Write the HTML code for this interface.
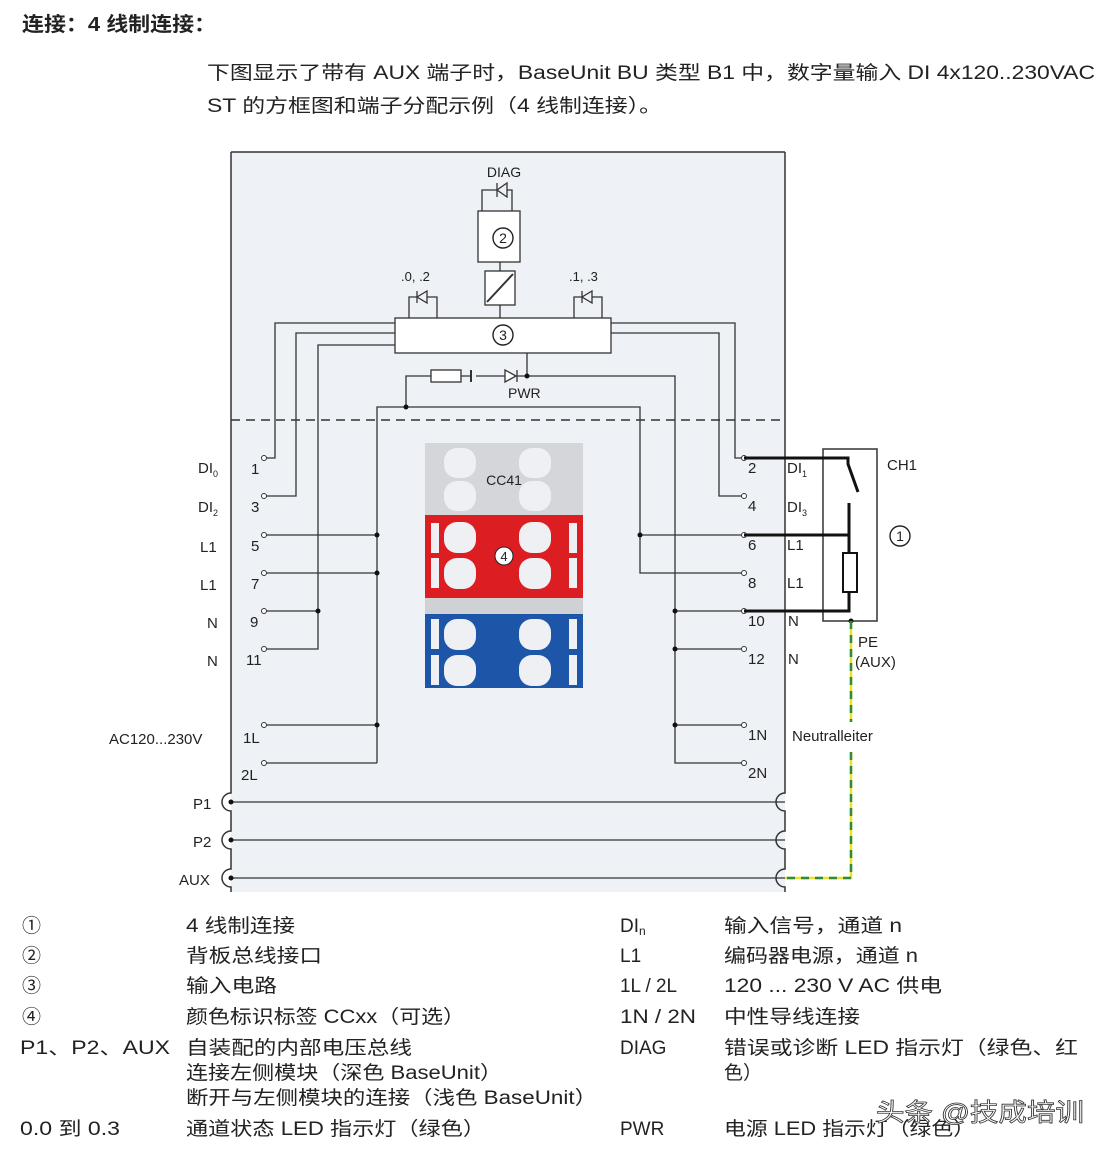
<!DOCTYPE html>
<html><head><meta charset="utf-8"><style>
html,body{margin:0;padding:0;background:#fff;}
svg{display:block;}
text{font-family:"Liberation Sans","Noto Sans CJK SC",sans-serif;fill:#222;}
</style></head><body>
<svg width="1108" height="1154" viewBox="0 0 1108 1154" xmlns="http://www.w3.org/2000/svg">
<rect width="1108" height="1154" fill="#fff"/>
<text x="22" y="31" font-size="20" font-weight="bold" textLength="194" lengthAdjust="spacingAndGlyphs">连接：4 线制连接：</text>
<text x="207" y="79" font-size="19" textLength="888" lengthAdjust="spacingAndGlyphs">下图显示了带有 AUX 端子时，BaseUnit BU 类型 B1 中，数字量输入 DI 4x120..230VAC</text>
<text x="207" y="112" font-size="19" textLength="455" lengthAdjust="spacingAndGlyphs">ST 的方框图和端子分配示例（4 线制连接）。</text>

<rect x="231" y="152" width="554" height="740" fill="#eef1f5" stroke="none"/>
<line x1="231" y1="152" x2="785" y2="152" stroke="#333" stroke-width="1.5"/>
<g fill="none" stroke="#333" stroke-width="1.5">
<path d="M231 152 V793 a8 8 0 0 0 0 18 V831 a8 8 0 0 0 0 18 V869 a8 8 0 0 0 0 18 V892"/>
<path d="M785 152 V793 a8 8 0 0 0 0 18 V831 a8 8 0 0 0 0 18 V869 a8 8 0 0 0 0 18 V892"/>
</g>
<line x1="231" y1="420" x2="785" y2="420" stroke="#333" stroke-width="1.5" stroke-dasharray="9,6"/>

<g stroke="#333" stroke-width="1.3" fill="none">
<path d="M482 211 V190 H497 M507 190 H512 V211"/>
<line x1="497" y1="183" x2="497" y2="197"/>
<polygon points="507,183 507,197 497,190" fill="#eef1f5"/>
<rect x="478" y="211" width="42" height="51" fill="#fff"/>
<line x1="500" y1="262" x2="500" y2="271"/>
<rect x="485" y="271" width="30" height="34" fill="#fff"/>
<line x1="487" y1="302" x2="513" y2="274" stroke-width="2"/>
<line x1="500" y1="305" x2="500" y2="318"/>
<path d="M409 318 V297 H417 M427 297 H437 V318"/>
<line x1="417" y1="291" x2="417" y2="303"/>
<polygon points="427,291 427,303 417,297" fill="#eef1f5"/>
<path d="M574 318 V297 H582 M592 297 H602 V318"/>
<line x1="582" y1="291" x2="582" y2="303"/>
<polygon points="592,291 592,303 582,297" fill="#eef1f5"/>
<rect x="395" y="318" width="216" height="35" fill="#fff"/>
<path d="M395 323 H275 V458 H264"/>
<path d="M395 333 H296 V496 H264"/>
<path d="M395 345 H318 V649 H264"/>
<path d="M611 323 H735 V458 H744"/>
<path d="M611 333 H719 V496 H744"/>
<path d="M527 353 V376 H675 V763 H744"/>
<path d="M527 376 H517 M505 376 H476 M472 376 H461 M431 376 H406 V407"/>
<polygon points="505,370 505,382 516,376" fill="#fff"/>
<line x1="517" y1="370" x2="517" y2="382"/>
<line x1="471" y1="370" x2="471" y2="382" stroke-width="2"/>
<rect x="431" y="370" width="30" height="12" fill="#fff"/>
<path d="M377 763 V407 H640 V573 H744"/>
<path d="M264 535 H377 M264 573 H377 M264 611 H318 M264 725 H377 M264 763 H377"/>
<path d="M640 535 H744 M675 611 H744 M675 649 H744 M675 725 H744"/>
<path d="M231 802 H785 M231 840 H785 M231 878 H785"/>
</g>
<g fill="#111">
<circle cx="527" cy="376" r="2.5"/><circle cx="406" cy="407" r="2.5"/>
<circle cx="377" cy="535" r="2.5"/><circle cx="377" cy="573" r="2.5"/><circle cx="377" cy="725" r="2.5"/>
<circle cx="318" cy="611" r="2.5"/><circle cx="640" cy="535" r="2.5"/>
<circle cx="675" cy="611" r="2.5"/><circle cx="675" cy="649" r="2.5"/><circle cx="675" cy="725" r="2.5"/>
<circle cx="231" cy="802" r="2.5"/><circle cx="231" cy="840" r="2.5"/><circle cx="231" cy="878" r="2.5"/>
</g>
<g fill="#fff" stroke="#333" stroke-width="1">
<circle cx="264" cy="458" r="2.5"/><circle cx="264" cy="496" r="2.5"/><circle cx="264" cy="535" r="2.5"/><circle cx="264" cy="573" r="2.5"/>
<circle cx="264" cy="611" r="2.5"/><circle cx="264" cy="649" r="2.5"/><circle cx="264" cy="725" r="2.5"/><circle cx="264" cy="763" r="2.5"/>
<circle cx="744" cy="458" r="2.5"/><circle cx="744" cy="496" r="2.5"/><circle cx="744" cy="535" r="2.5"/><circle cx="744" cy="573" r="2.5"/>
<circle cx="744" cy="611" r="2.5"/><circle cx="744" cy="649" r="2.5"/><circle cx="744" cy="725" r="2.5"/><circle cx="744" cy="763" r="2.5"/>
</g>
<g font-size="15">
<text x="504" y="177" text-anchor="middle" font-size="14">DIAG</text>
<text x="401" y="281" font-size="13">.0, .2</text>
<text x="569" y="281" font-size="13">.1, .3</text>
<text x="508" y="398" font-size="14">PWR</text>
</g>
<g fill="#fff" stroke="#222" stroke-width="1.4">
<circle cx="503" cy="238" r="10"/><circle cx="503" cy="335" r="10"/>
<circle cx="900" cy="536" r="10"/>
</g>
<g font-size="14" text-anchor="middle">
<text x="503" y="243">2</text><text x="503" y="340">3</text><text x="900" y="541">1</text>
</g>

<rect x="425" y="443" width="158" height="72" fill="#d4d6d9"/>
<rect x="425" y="515" width="158" height="83" fill="#dc1e22"/>
<rect x="425" y="598" width="158" height="16" fill="#cfd1d4"/>
<rect x="425" y="614" width="158" height="74" fill="#1d55a8"/>
<g fill="#eef0f4">
<rect x="444" y="448" width="32" height="30" rx="13"/><rect x="519" y="448" width="32" height="30" rx="13"/>
<rect x="444" y="481" width="32" height="30" rx="13"/><rect x="519" y="481" width="32" height="30" rx="13"/>
<rect x="444" y="522" width="32" height="31" rx="13"/><rect x="519" y="522" width="32" height="31" rx="13"/>
<rect x="444" y="558" width="32" height="31" rx="13"/><rect x="519" y="558" width="32" height="31" rx="13"/>
<rect x="444" y="619" width="32" height="31" rx="13"/><rect x="519" y="619" width="32" height="31" rx="13"/>
<rect x="444" y="655" width="32" height="31" rx="13"/><rect x="519" y="655" width="32" height="31" rx="13"/>
<rect x="431" y="523" width="8" height="30"/><rect x="431" y="558" width="8" height="30"/>
<rect x="569" y="523" width="8" height="30"/><rect x="569" y="558" width="8" height="30"/>
<rect x="431" y="619" width="8" height="30"/><rect x="431" y="655" width="8" height="30"/>
<rect x="569" y="619" width="8" height="30"/><rect x="569" y="655" width="8" height="30"/>
</g>
<text x="504" y="485" font-size="14" text-anchor="middle">CC41</text>
<circle cx="504" cy="556" r="9" fill="#fff" stroke="#222"/>
<text x="504" y="561" font-size="13" text-anchor="middle">4</text>

<g font-size="15">
<text x="198" y="473">DI<tspan font-size="9" dy="4">0</tspan></text>
<text x="198" y="512">DI<tspan font-size="9" dy="4">2</tspan></text>
<text x="200" y="552">L1</text><text x="200" y="590">L1</text>
<text x="207" y="628">N</text><text x="207" y="666">N</text>
<text x="109" y="744">AC120...230V</text>
<text x="251" y="474">1</text><text x="251" y="512">3</text><text x="251" y="551">5</text><text x="251" y="589">7</text>
<text x="250" y="627">9</text><text x="246" y="665">11</text><text x="243" y="743">1L</text><text x="241" y="780">2L</text>
<text x="193" y="809">P1</text><text x="193" y="847">P2</text><text x="179" y="885">AUX</text>
<text x="748" y="473">2</text><text x="748" y="511">4</text><text x="748" y="550">6</text><text x="748" y="588">8</text>
<text x="748" y="626">10</text><text x="748" y="664">12</text><text x="748" y="740">1N</text><text x="748" y="778">2N</text>
<text x="787" y="473">DI<tspan font-size="9" dy="4">1</tspan></text>
<text x="787" y="512">DI<tspan font-size="9" dy="4">3</tspan></text>
<text x="787" y="550">L1</text><text x="787" y="588">L1</text>
<text x="788" y="626">N</text><text x="788" y="664">N</text>
<text x="792" y="741">Neutralleiter</text>
<text x="887" y="470">CH1</text>
<text x="858" y="647">PE</text><text x="855" y="667">(AUX)</text>
</g>

<rect x="823" y="449" width="54" height="172" fill="none" stroke="#333" stroke-width="1.5"/>
<g stroke="#111" stroke-width="3" fill="none">
<path d="M744 458 H848 V464 L858 492"/>
<path d="M849 503 V553 M849 592 V611 H744 M744 535 H849"/>
</g>
<rect x="843" y="553" width="14" height="39" fill="#fff" stroke="#111" stroke-width="2"/>
<circle cx="851" cy="621" r="2.5" fill="#111"/>
<path d="M851 621 V722 M851 752 V878 H785" stroke="#e8e22a" stroke-width="2.5" fill="none"/>
<path d="M851 621 V722 M851 752 V878 H785" stroke="#2e8b3a" stroke-width="2.5" fill="none" stroke-dasharray="8,6"/>

<g font-size="19">
<text x="22" y="932">①</text><text x="186" y="932" textLength="109" lengthAdjust="spacingAndGlyphs">4 线制连接</text>
<text x="22" y="962">②</text><text x="186" y="962" textLength="136" lengthAdjust="spacingAndGlyphs">背板总线接口</text>
<text x="22" y="992">③</text><text x="186" y="992" textLength="91" lengthAdjust="spacingAndGlyphs">输入电路</text>
<text x="22" y="1023">④</text><text x="186" y="1023" textLength="279" lengthAdjust="spacingAndGlyphs">颜色标识标签 CCxx（可选）</text>
<text x="20" y="1054" textLength="150" lengthAdjust="spacingAndGlyphs">P1、P2、AUX</text><text x="186" y="1054" textLength="226" lengthAdjust="spacingAndGlyphs">自装配的内部电压总线</text>
<text x="186" y="1079" textLength="316" lengthAdjust="spacingAndGlyphs">连接左侧模块（深色 BaseUnit）</text>
<text x="186" y="1104" textLength="411" lengthAdjust="spacingAndGlyphs">断开与左侧模块的连接（浅色 BaseUnit）</text>
<text x="20" y="1135" textLength="100" lengthAdjust="spacingAndGlyphs">0.0 到 0.3</text><text x="186" y="1135" textLength="299" lengthAdjust="spacingAndGlyphs">通道状态 LED 指示灯（绿色）</text>
<text x="620" y="932">DI<tspan font-size="12" dy="3">n</tspan></text><text x="724" y="932" textLength="178" lengthAdjust="spacingAndGlyphs">输入信号，通道 n</text>
<text x="620" y="962">L1</text><text x="724" y="962" textLength="194" lengthAdjust="spacingAndGlyphs">编码器电源，通道 n</text>
<text x="620" y="992" textLength="57" lengthAdjust="spacingAndGlyphs">1L / 2L</text><text x="724" y="992" textLength="218" lengthAdjust="spacingAndGlyphs">120 ... 230 V AC 供电</text>
<text x="620" y="1023" textLength="76" lengthAdjust="spacingAndGlyphs">1N / 2N</text><text x="724" y="1023" textLength="136" lengthAdjust="spacingAndGlyphs">中性导线连接</text>
<text x="620" y="1054">DIAG</text><text x="724" y="1054" textLength="354" lengthAdjust="spacingAndGlyphs">错误或诊断 LED 指示灯（绿色、红</text>
<text x="724" y="1079">色）</text>
<text x="620" y="1135">PWR</text><text x="724" y="1135" textLength="251" lengthAdjust="spacingAndGlyphs">电源 LED 指示灯（绿色）</text>
</g>
<text x="876" y="1121" font-size="25" textLength="208" lengthAdjust="spacingAndGlyphs" style="fill:#fff;stroke:#333;stroke-width:0.8">头条 @技成培训</text>
</svg>
</body></html>
